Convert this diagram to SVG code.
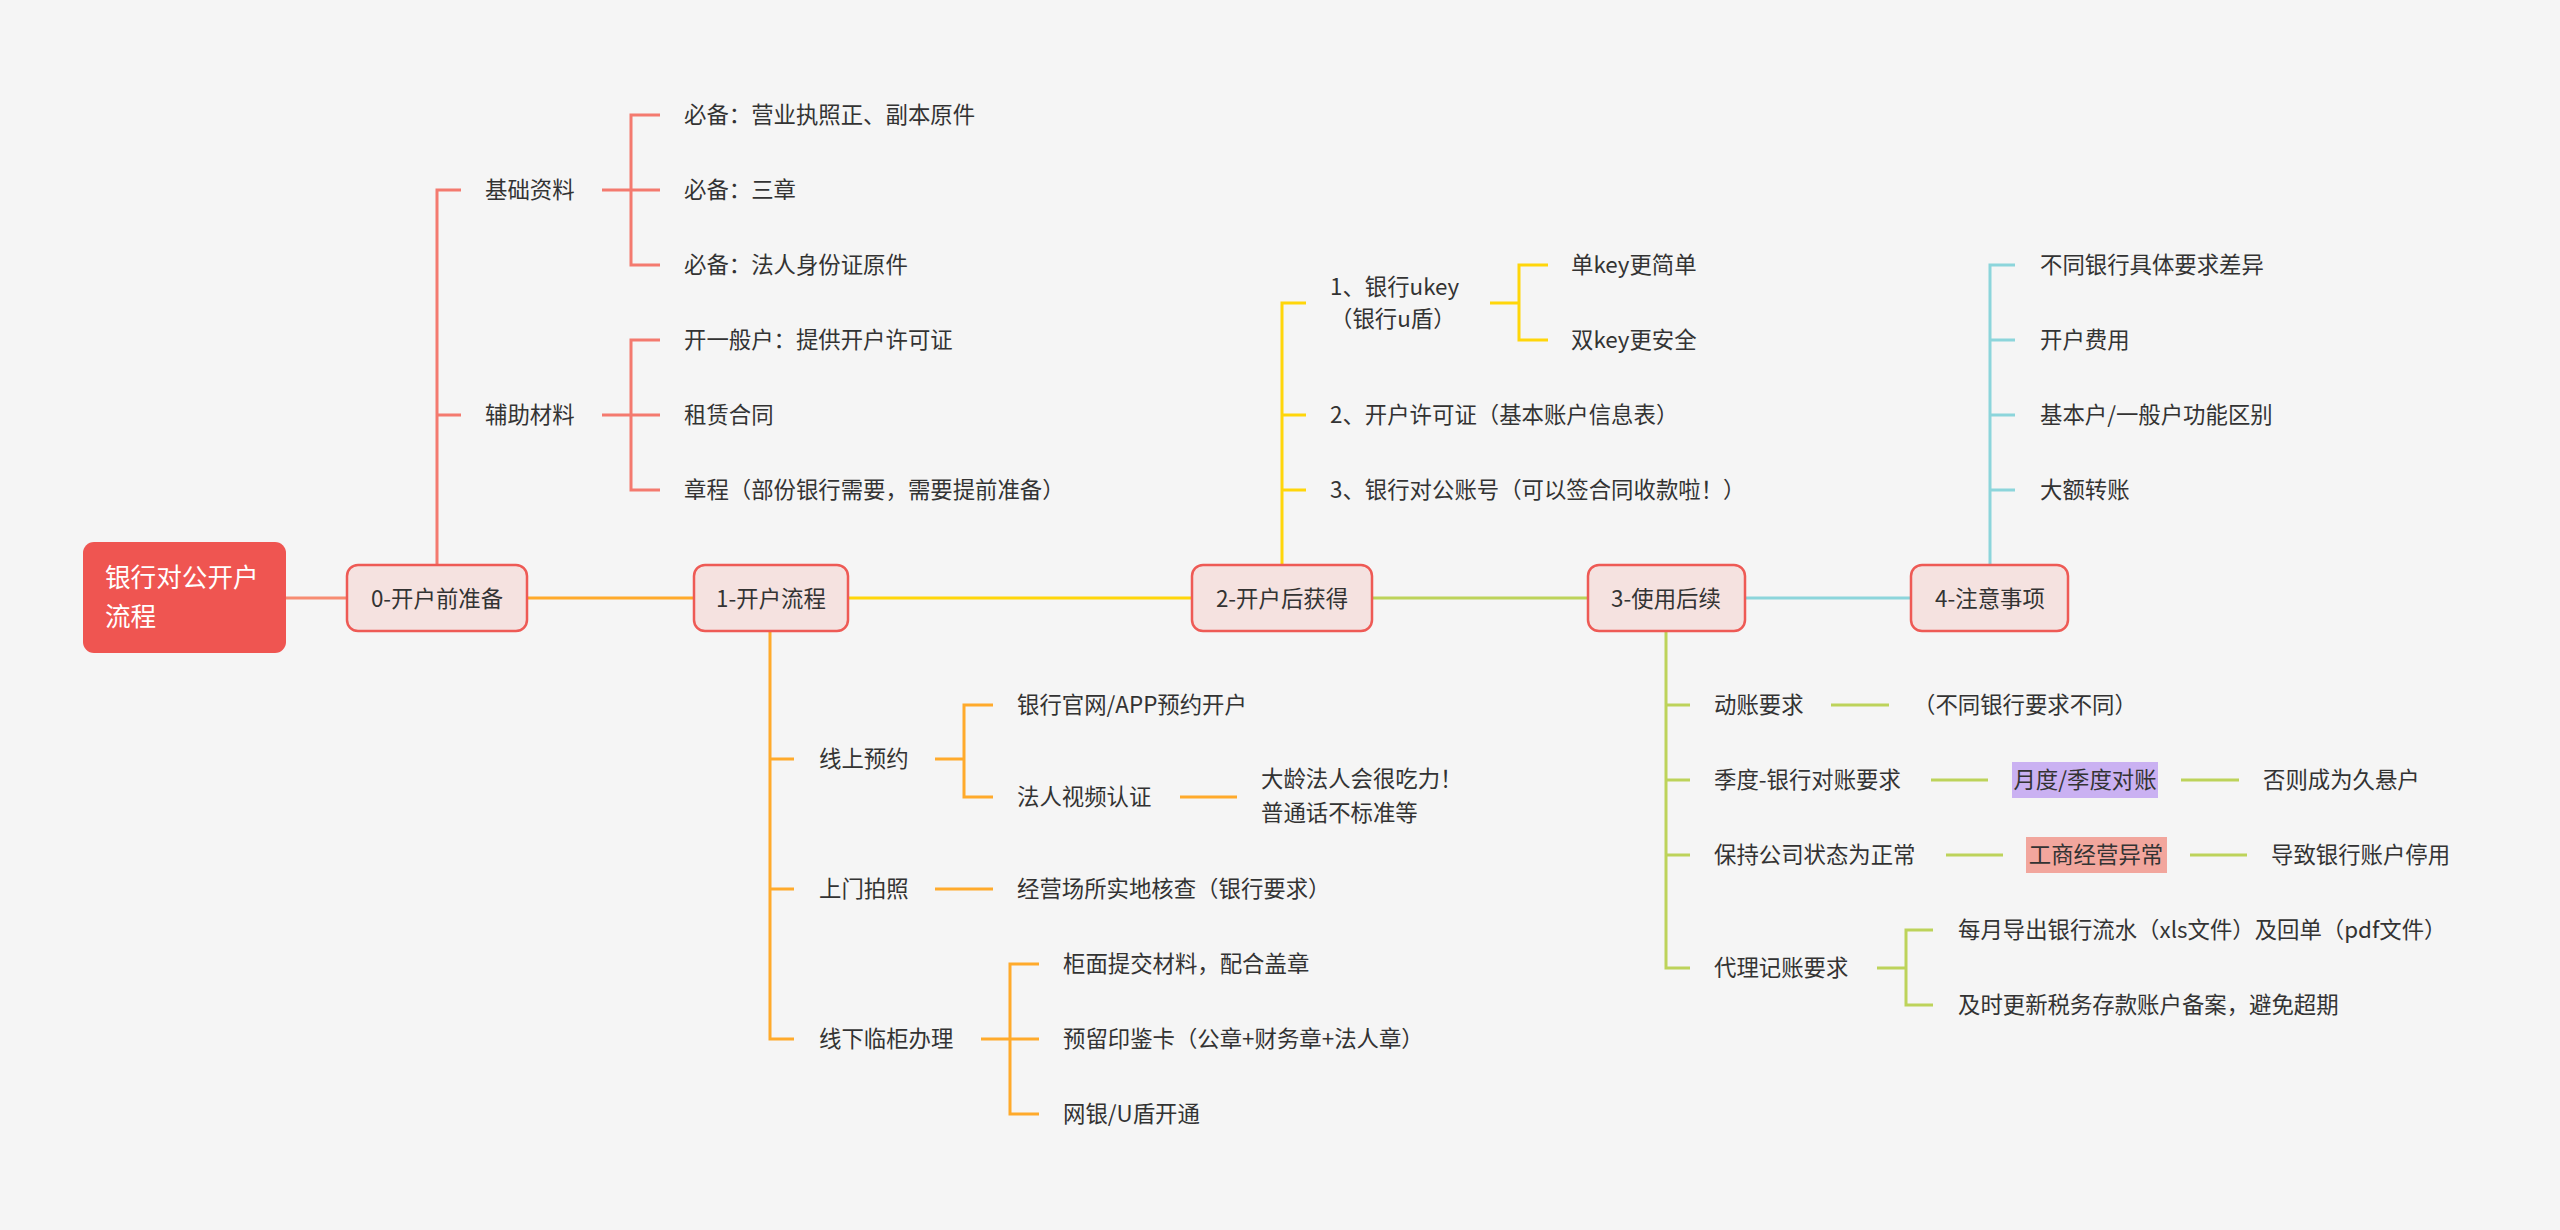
<svg xmlns="http://www.w3.org/2000/svg" width="2560" height="1230" viewBox="0 0 2560 1230">
<style>
text{font-family:"Noto Sans CJK SC","Noto Sans",sans-serif;font-size:22.4px;fill:#333333;dominant-baseline:central}
.root text{fill:#ffffff;font-size:25.6px}
.main rect{fill:#F5E2E0;stroke:#EE5A55;stroke-width:2.5}
.main text{text-anchor:middle}
.c{fill:none;stroke-width:3;stroke-linecap:butt}
.r{stroke:#F47A6F}
.s{stroke:#F78C72}
.o{stroke:#FFAA2B}
.y{stroke:#FFD60A}
.g{stroke:#BDD35A}
.b{stroke:#8CD5DB}
</style>
<rect x="0" y="0" width="2560" height="1230" fill="#F5F5F5"/>

<g id="connectors">
  <path class="c s" d="M286 598H347"/>
  <path class="c o" d="M527 598H694"/>
  <path class="c y" d="M848 598H1192"/>
  <path class="c g" d="M1372 598H1588"/>
  <path class="c b" d="M1745 598H1911"/>

  <path class="c r" d="M437 565V190H461M437 415H461"/>
  <path class="c r" d="M602 190H631M660 115H631V265H660M631 190H660"/>
  <path class="c r" d="M602 415H631M660 340H631V490H660M631 415H660"/>

  <path class="c o" d="M770 631V1039H794M770 759H794M770 889H794"/>
  <path class="c o" d="M935 759H964M993 705H964V797H993"/>
  <path class="c o" d="M1180 797H1237"/>
  <path class="c o" d="M935 889H993"/>
  <path class="c o" d="M981 1039H1010M1039 964H1010V1114H1039M1010 1039H1039"/>

  <path class="c y" d="M1282 565V303H1306M1282 415H1306M1282 490H1306"/>
  <path class="c y" d="M1490 303H1519M1548 265H1519V340H1548"/>

  <path class="c g" d="M1666 631V968H1690M1666 705H1690M1666 780H1690M1666 855H1690"/>
  <path class="c g" d="M1831 705H1889"/>
  <path class="c g" d="M1931 780H1988M2181 780H2239"/>
  <path class="c g" d="M1946 855H2003M2190 855H2247"/>
  <path class="c g" d="M1877 968H1906M1933 930H1906V1005H1933"/>

  <path class="c b" d="M1990 565V265H2015M1990 340H2015M1990 415H2015M1990 490H2015"/>
</g>

<g id="root" class="root">
  <rect x="83" y="542" width="203" height="111" rx="11" fill="#EF5551"/>
  <text x="105" y="575">银行对公开户</text>
  <text x="105" y="614">流程</text>
</g>

<g id="n0" class="main"><rect x="347" y="565" width="180" height="66" rx="11"/><text x="437" y="597">0-开户前准备</text></g>
<g id="n1" class="main"><rect x="694" y="565" width="154" height="66" rx="11"/><text x="771" y="597">1-开户流程</text></g>
<g id="n2" class="main"><rect x="1192" y="565" width="180" height="66" rx="11"/><text x="1282" y="597">2-开户后获得</text></g>
<g id="n3" class="main"><rect x="1588" y="565" width="157" height="66" rx="11"/><text x="1666" y="597">3-使用后续</text></g>
<g id="n4" class="main"><rect x="1911" y="565" width="157" height="66" rx="11"/><text x="1990" y="597">4-注意事项</text></g>

<g id="n0-1"><text x="485" y="188">基础资料</text></g>
<g id="n0-1-1"><text x="684" y="113">必备：营业执照正、副本原件</text></g>
<g id="n0-1-2"><text x="684" y="188">必备：三章</text></g>
<g id="n0-1-3"><text x="684" y="263">必备：法人身份证原件</text></g>
<g id="n0-2"><text x="485" y="413">辅助材料</text></g>
<g id="n0-2-1"><text x="684" y="338">开一般户：提供开户许可证</text></g>
<g id="n0-2-2"><text x="684" y="413">租赁合同</text></g>
<g id="n0-2-3"><text x="684" y="488">章程（部份银行需要，需要提前准备）</text></g>

<g id="n1-1"><text x="819" y="757">线上预约</text></g>
<g id="n1-1-1"><text x="1017" y="703">银行官网/APP预约开户</text></g>
<g id="n1-1-2"><text x="1017" y="795">法人视频认证</text></g>
<g id="n1-1-2-1"><text x="1261" y="777">大龄法人会很吃力！</text><text x="1261" y="811">普通话不标准等</text></g>
<g id="n1-2"><text x="819" y="887">上门拍照</text></g>
<g id="n1-2-1"><text x="1017" y="887">经营场所实地核查（银行要求）</text></g>
<g id="n1-3"><text x="819" y="1037">线下临柜办理</text></g>
<g id="n1-3-1"><text x="1063" y="962">柜面提交材料，配合盖章</text></g>
<g id="n1-3-2"><text x="1063" y="1037">预留印鉴卡（公章+财务章+法人章）</text></g>
<g id="n1-3-3"><text x="1063" y="1112">网银/U盾开通</text></g>

<g id="n2-1"><text x="1330" y="285">1、银行ukey</text><text x="1330" y="317">（银行u盾）</text></g>
<g id="n2-1-1"><text x="1571" y="263">单key更简单</text></g>
<g id="n2-1-2"><text x="1571" y="338">双key更安全</text></g>
<g id="n2-2"><text x="1330" y="413">2、开户许可证（基本账户信息表）</text></g>
<g id="n2-3"><text x="1330" y="488">3、银行对公账号（可以签合同收款啦！）</text></g>

<g id="n3-1"><text x="1714" y="703">动账要求</text></g>
<g id="n3-1-1"><text x="1913" y="703">（不同银行要求不同）</text></g>
<g id="n3-2"><text x="1714" y="778">季度-银行对账要求</text></g>
<g id="n3-2-1"><rect x="2012" y="762" width="146" height="36" fill="#CAB1F2"/><text x="2085" y="778" text-anchor="middle">月度/季度对账</text></g>
<g id="n3-2-2"><text x="2263" y="778">否则成为久悬户</text></g>
<g id="n3-3"><text x="1714" y="853">保持公司状态为正常</text></g>
<g id="n3-3-1"><rect x="2026" y="837" width="141" height="36" fill="#F2A69D"/><text x="2096" y="853" text-anchor="middle">工商经营异常</text></g>
<g id="n3-3-2"><text x="2271" y="853">导致银行账户停用</text></g>
<g id="n3-4"><text x="1714" y="966">代理记账要求</text></g>
<g id="n3-4-1"><text x="1958" y="928">每月导出银行流水（xls文件）及回单（pdf文件）</text></g>
<g id="n3-4-2"><text x="1958" y="1003">及时更新税务存款账户备案，避免超期</text></g>

<g id="n4-1"><text x="2040" y="263">不同银行具体要求差异</text></g>
<g id="n4-2"><text x="2040" y="338">开户费用</text></g>
<g id="n4-3"><text x="2040" y="413">基本户/一般户功能区别</text></g>
<g id="n4-4"><text x="2040" y="488">大额转账</text></g>
</svg>
